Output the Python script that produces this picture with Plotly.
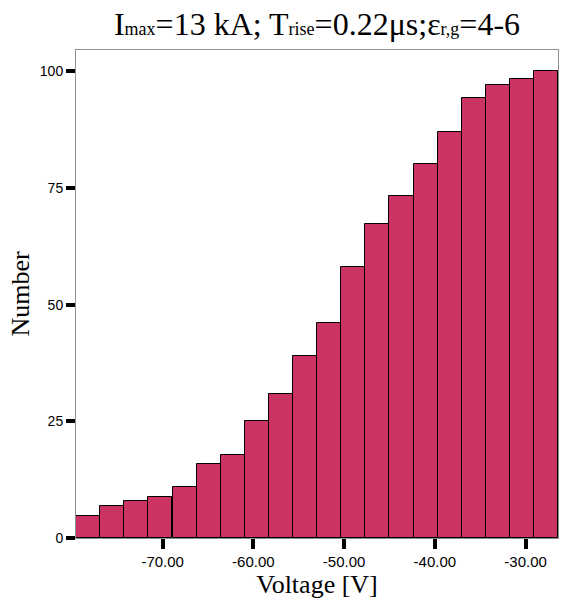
import plotly.graph_objects as go

# Cumulative count per voltage bin (bin centres in volts)
voltage_centers = [-78.22, -75.57, -72.91, -70.25, -67.59, -64.94, -62.28, -59.62,
                   -56.97, -54.31, -51.65, -48.99, -46.34, -43.68, -41.02, -38.37,
                   -35.71, -33.05, -30.39, -27.74]
counts = [4.7, 6.8, 8.0, 8.7, 10.9, 15.9, 17.7, 25.0, 30.8, 39.1,
          46.1, 58.0, 67.2, 73.3, 80.1, 87.1, 94.3, 97.2, 98.3, 100.0]

x_ticks = [-70, -60, -50, -40, -30]
x_tick_labels = [f"{v:.2f}" for v in x_ticks]  # plain hyphen-minus, two decimals
y_ticks = [0, 25, 50, 75, 100]

BAR_COLOR = "#CB3462"
FRAME_COLOR = "#8f8f8f"
SERIF = "Liberation Serif"
SANS = "Liberation Sans"

fig = go.Figure(
    go.Bar(
        x=voltage_centers,
        y=counts,
        marker=dict(color=BAR_COLOR, line=dict(color="black", width=1)),
    )
)

sub = '<span style="font-size:18px">{}</span>'
title_text = ("I" + sub.format("max") + "=13 kA; T" + sub.format("rise")
              + "=0.22μs;ε" + sub.format("r,g") + "=4-6")

fig.update_layout(
    width=561,
    height=606,
    margin=dict(l=76, r=3, t=50, b=68),
    paper_bgcolor="white",
    plot_bgcolor="white",
    bargap=0,
    showlegend=False,
    title=dict(
        text=title_text,
        font=dict(family=SERIF, size=32, color="black"),
        x=0.5, xref="paper", xanchor="center",
        y=1 - 24 / 606, yref="container", yanchor="middle",
    ),
)

fig.update_xaxes(
    range=[-79.55, -26.43],
    tickvals=x_ticks,
    ticktext=x_tick_labels,
    ticks="outside", ticklen=10, tickwidth=4, tickcolor="black",
    tickfont=dict(family=SANS, size=15, color="black"),
    showline=True, linecolor=FRAME_COLOR, linewidth=1, mirror=True,
    showgrid=False, zeroline=False,
    title=dict(text="Voltage [V]", font=dict(family=SERIF, size=26, color="black"),
               standoff=4),
)

fig.update_yaxes(
    range=[0, 104.6],
    tickvals=y_ticks,
    ticks="outside", ticklen=9, tickwidth=4, tickcolor="black",
    tickfont=dict(family=SANS, size=14, color="black"),
    showline=True, linecolor=FRAME_COLOR, linewidth=1, mirror=True,
    showgrid=False, zeroline=False,
    title=dict(text="Number", font=dict(family=SERIF, size=26, color="black"),
               standoff=2),
)

fig.write_html("out.html")
